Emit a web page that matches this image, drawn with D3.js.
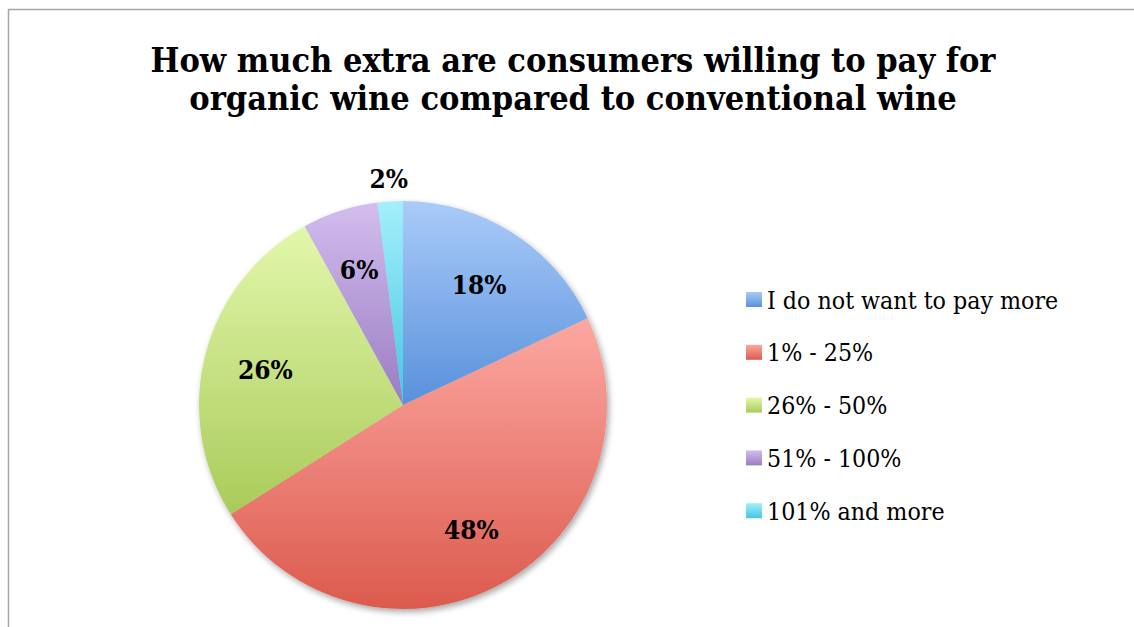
<!DOCTYPE html>
<html>
<head>
<meta charset="utf-8">
<script src="https://cdn.jsdelivr.net/npm/d3@7"></script>
<style>
  html, body { margin: 0; padding: 0; background: #fff; }
  svg { display: block; }
</style>
</head>
<body>
<svg></svg>
<script>
// data
const categories = ["I do not want to pay more", "1% - 25%", "26% - 50%", "51% - 100%", "101% and more"];
const values = [18, 48, 26, 6, 2];
const titleLines = ["How much extra are consumers willing to pay for",
                    "organic wine compared to conventional wine"];

// light (top) / dark (bottom) colours per slice
const topColors = ["#abcbf9", "#fca8a2", "#e3f7ab", "#d3bdee", "#a4effc"];
const bottomColors = ["#5791dc", "#dc5a4d", "#a9cb5a", "#9a7cc3", "#44c6df"];

const width = 1134, height = 627;
const svg = d3.select("svg").attr("width", width).attr("height", height);
const font = "'DejaVu Serif Condensed', 'DejaVu Serif', serif";

// frame (top and left only visible)
svg.append("line").attr("x1", 8).attr("y1", 9.5).attr("x2", width).attr("y2", 9.5)
  .attr("stroke", "#a6a6a6").attr("stroke-width", 1.5);
svg.append("line").attr("x1", 8.5).attr("y1", 9).attr("x2", 8.5).attr("y2", height)
  .attr("stroke", "#a6a6a6").attr("stroke-width", 1.5);

const defs = svg.append("defs");
categories.forEach((c, i) => {
  const g = defs.append("linearGradient").attr("id", "grad" + i)
    .attr("x1", 0).attr("y1", 0).attr("x2", 0).attr("y2", 1);
  g.append("stop").attr("offset", "0%").attr("stop-color", topColors[i]);
  g.append("stop").attr("offset", "100%").attr("stop-color", bottomColors[i]);
});
const shadow = defs.append("filter").attr("id", "shadow")
  .attr("x", "-10%").attr("y", "-10%").attr("width", "120%").attr("height", "120%");
shadow.append("feDropShadow").attr("dx", 2).attr("dy", 3).attr("stdDeviation", 3)
  .attr("flood-color", "#000").attr("flood-opacity", 0.35);

// title
const title = svg.append("g");
titleLines.forEach((t, i) => {
  title.append("text")
    .attr("x", 573).attr("y", 72 + i * 38)
    .attr("text-anchor", "middle")
    .attr("font-family", font).attr("font-weight", "bold")
    .attr("font-stretch", "condensed")
    .attr("font-size", 34)
    .attr("fill", "#000")
    .text(t);
});

// pie
const cx = 403, cy = 405, R = 204;
const pie = d3.pie().sort(null).value(d => d)(values);
const arc = d3.arc().innerRadius(0).outerRadius(R);
const labelArc = d3.arc().innerRadius(142).outerRadius(142);
const outerArc = d3.arc().innerRadius(227).outerRadius(227);

const pg = svg.append("g").attr("transform", `translate(${cx},${cy})`);
const slices = pg.append("g").attr("filter", "url(#shadow)");
slices.selectAll("path")
  .data(pie)
  .enter()
  .append("path")
  .attr("d", arc)
  .attr("fill", (d, i) => `url(#grad${i})`);

pg.selectAll(".slice-label")
  .data(pie)
  .enter()
  .append("text")
  .attr("class", "slice-label")
  .attr("transform", d => `translate(${(d.data < 3 ? outerArc : labelArc).centroid(d)})`)
  .attr("text-anchor", "middle")
  .attr("dy", "0.35em")
  .attr("font-family", font).attr("font-weight", "bold")
  .attr("font-stretch", "condensed")
  .attr("font-size", 26)
  .attr("fill", "#000")
  .text(d => d.data + "%");

// legend
const legend = svg.append("g").attr("transform", "translate(746,300)");
const rows = legend.selectAll("g")
  .data(categories)
  .enter()
  .append("g")
  .attr("transform", (d, i) => `translate(0,${i * 52.8})`);
rows.append("rect")
  .attr("x", 0).attr("y", -8).attr("width", 16).attr("height", 15)
  .attr("fill", (d, i) => `url(#grad${i})`);
rows.append("text")
  .attr("x", 21).attr("y", 0).attr("dy", "0.35em")
  .attr("font-family", font)
  .attr("font-stretch", "condensed")
  .attr("font-size", 24.7)
  .attr("fill", "#000")
  .text(d => d);
</script>
</body>
</html>
